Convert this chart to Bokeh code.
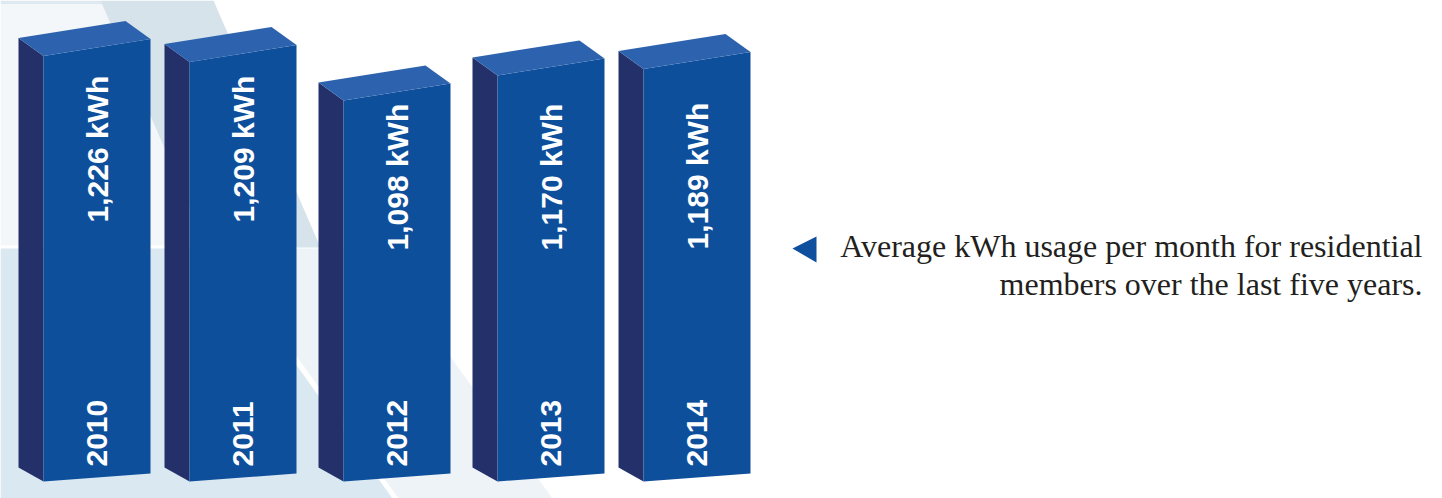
import math
from bokeh.plotting import figure
from bokeh.models import Range1d
from bokeh.core.properties import value
from bokeh.embed import file_html
from bokeh.resources import INLINE

# ---------------- data ----------------
years = ["2010", "2011", "2012", "2013", "2014"]
usage_kwh = [1226, 1209, 1098, 1170, 1189]
value_labels = [f"{v:,} kWh" for v in usage_kwh]
caption_lines = ["Average kWh usage per month for residential",
                 "members over the last five years."]

# ---------------- layout (reference pixel space) ----------------
W, H = 1442, 498
OFF = 0
BASE = 481.0          # pixel row of 0 kWh (front-left bottom corner)
S = 0.347             # pixels per kWh
BAR_LEFT_PX = [43, 189, 343, 497, 643]
FRONT_W = 107
SIDE_W = 25
SIDE_RISE_TOP = 18
FRONT_RISE_TOP = 17
FRONT_RISE_BOT = 8
SIDE_RISE_BOT = 14
LABEL_START_PX = [222, 222, 250, 250, 249]
YEAR_START_PX = 466
CAPTION_BASELINES_PX = [245, 283]

FRONT_C = "#0E4F9C"
SIDE_C = "#24306A"
TOP_C = "#2D63AE"


def ky(yref):
    """reference pixel row -> kWh data coordinate"""
    return (BASE - yref) / S


def px(n):
    """pixel length -> kWh length"""
    return n / S


p = figure(width=W, height=H, x_range=Range1d(OFF, OFF + W),
           y_range=Range1d(ky(OFF + H), ky(OFF)),
           output_backend="svg", toolbar_location=None,
           x_axis_type=None, y_axis_type=None, min_border=0)
p.grid.visible = False
p.outline_line_color = None
p.background_fill_color = "white"
p.border_fill_color = "white"

# ---------------- decorative background ----------------
bg_shapes = [
    ([0, 100, 102, 0], [0, 0, 4, 4], "#dfe9f0"),
    ([0, 102, 206, 0], [4, 4, 245, 245], "#f4f7fa"),
    ([100, 213, 320, 207], [0, 0, 247, 247], "#d6e3eb"),
    ([0, 212, 392, 0], [248, 248, 498, 498], "#d9e8f1"),
    ([219, 372, 552, 398], [248, 248, 498, 498], "#eef3f8"),
]
for xs, ys, c in bg_shapes:
    p.patch(xs, [ky(y) for y in ys], fill_color=c, line_color=None)

# ---------------- 3D bars ----------------
fx, fy, sx, sy, tx, ty = [], [], [], [], [], []
for x0, v in zip(BAR_LEFT_PX, usage_kwh):
    fx.append([x0, x0 + FRONT_W, x0 + FRONT_W, x0])
    fy.append([0, px(FRONT_RISE_BOT), v + px(FRONT_RISE_TOP), v])
    sx.append([x0 - SIDE_W, x0, x0, x0 - SIDE_W])
    sy.append([px(SIDE_RISE_BOT), 0, v, v + px(SIDE_RISE_TOP)])
    tx.append([x0, x0 - SIDE_W, x0 - SIDE_W + FRONT_W, x0 + FRONT_W])
    ty.append([v, v + px(SIDE_RISE_TOP), v + px(SIDE_RISE_TOP + FRONT_RISE_TOP),
               v + px(FRONT_RISE_TOP)])

p.patches(sx, sy, fill_color=SIDE_C, line_color=None)
p.patches(fx, fy, fill_color=FRONT_C, line_color=None)
p.patches(tx, ty, fill_color=TOP_C, line_color=None)

centers = [x0 + FRONT_W / 2 for x0 in BAR_LEFT_PX]

p.text(x=centers, y=[ky(yp) for yp in LABEL_START_PX], text=value_labels,
       angle=math.pi / 2, text_align="left", text_baseline="middle",
       text_color="white", text_font=value("Liberation Sans"),
       text_font_style="bold", text_font_size="30px")

p.text(x=centers, y=[ky(YEAR_START_PX)] * len(years), text=years,
       angle=math.pi / 2, text_align="left", text_baseline="middle",
       text_color="white", text_font=value("Liberation Sans"),
       text_font_style="bold", text_font_size="30px")

# ---------------- caption ----------------
p.patch([792, 816, 816], [ky(248), ky(236), ky(262)],
        fill_color="#0E4F9E", line_color=None)
p.text(x=[1422, 1422], y=[ky(b) for b in CAPTION_BASELINES_PX], text=caption_lines,
       text_align="right", text_baseline="alphabetic",
       text_color="#231f20", text_font=value("Liberation Serif"),
       text_font_size="32px")

open("out.html", "w").write(file_html(p, INLINE))
